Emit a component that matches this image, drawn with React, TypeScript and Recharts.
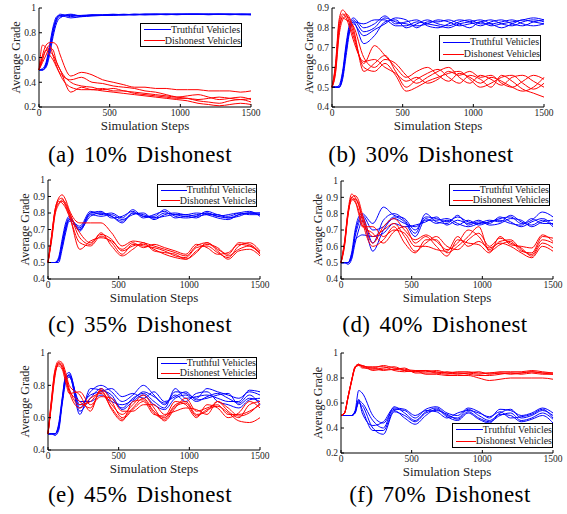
import { LineChart, Line, XAxis, YAxis, Legend } from "recharts";

// Simulation step at which each grade was sampled
const STEPS = [0, 25, 50, 75, 100, 125, 150, 225, 300, 375, 450, 525, 600, 675, 750, 825, 900, 975, 1050, 1125, 1200, 1275, 1350, 1425, 1500];
const X_TICKS = [0, 500, 1000, 1500];

// (a) 10% dishonest
const A_TRUTHFUL = [
  [0.5, 0.5, 0.53, 0.65, 0.8, 0.9, 0.93, 0.94, 0.94, 0.945, 0.945, 0.95, 0.945, 0.95, 0.95, 0.95, 0.95, 0.95, 0.95, 0.95, 0.95, 0.95, 0.95, 0.95, 0.95],
  [0.5, 0.5, 0.55, 0.68, 0.83, 0.92, 0.95, 0.93, 0.94, 0.94, 0.945, 0.945, 0.95, 0.945, 0.95, 0.95, 0.95, 0.95, 0.95, 0.95, 0.95, 0.95, 0.95, 0.945, 0.945],
  [0.5, 0.5, 0.52, 0.62, 0.77, 0.88, 0.92, 0.95, 0.935, 0.945, 0.94, 0.945, 0.945, 0.95, 0.945, 0.95, 0.95, 0.945, 0.95, 0.95, 0.95, 0.95, 0.95, 0.95, 0.95],
  [0.5, 0.51, 0.56, 0.7, 0.85, 0.93, 0.94, 0.92, 0.93, 0.94, 0.94, 0.94, 0.945, 0.945, 0.945, 0.945, 0.95, 0.95, 0.95, 0.95, 0.945, 0.95, 0.95, 0.95, 0.945],
  [0.5, 0.5, 0.54, 0.66, 0.81, 0.91, 0.94, 0.945, 0.93, 0.935, 0.94, 0.945, 0.945, 0.945, 0.95, 0.95, 0.945, 0.95, 0.95, 0.95, 0.95, 0.95, 0.945, 0.95, 0.95],
];
const A_DISHONEST = [
  [0.5, 0.62, 0.7, 0.72, 0.72, 0.7, 0.62, 0.45, 0.48, 0.46, 0.42, 0.4, 0.38, 0.36, 0.36, 0.35, 0.35, 0.34, 0.34, 0.34, 0.33, 0.33, 0.33, 0.32, 0.33],
  [0.5, 0.7, 0.68, 0.65, 0.62, 0.56, 0.5, 0.32, 0.36, 0.34, 0.35, 0.33, 0.33, 0.31, 0.3, 0.29, 0.28, 0.27, 0.27, 0.26, 0.27, 0.28, 0.27, 0.26, 0.27],
  [0.5, 0.56, 0.62, 0.68, 0.66, 0.56, 0.5, 0.4, 0.37, 0.36, 0.34, 0.35, 0.33, 0.32, 0.31, 0.3, 0.29, 0.28, 0.29, 0.3, 0.28, 0.26, 0.27, 0.28, 0.26],
  [0.5, 0.58, 0.66, 0.62, 0.58, 0.52, 0.47, 0.42, 0.44, 0.4, 0.39, 0.37, 0.36, 0.35, 0.33, 0.32, 0.3, 0.28, 0.27, 0.25, 0.24, 0.23, 0.25, 0.26, 0.24],
  [0.5, 0.6, 0.66, 0.7, 0.61, 0.53, 0.46, 0.36, 0.34, 0.34, 0.33, 0.32, 0.31, 0.3, 0.29, 0.28, 0.27, 0.26, 0.25, 0.23, 0.22, 0.21, 0.22, 0.23, 0.22],
];

// (b) 30% dishonest
const B_TRUTHFUL = [
  [0.5, 0.5, 0.5, 0.56, 0.7, 0.81, 0.84, 0.78, 0.8, 0.85, 0.83, 0.82, 0.81, 0.82, 0.84, 0.83, 0.81, 0.82, 0.83, 0.84, 0.82, 0.81, 0.83, 0.84, 0.83],
  [0.5, 0.5, 0.5, 0.55, 0.68, 0.79, 0.83, 0.72, 0.76, 0.83, 0.84, 0.8, 0.82, 0.84, 0.82, 0.81, 0.83, 0.84, 0.82, 0.82, 0.83, 0.84, 0.82, 0.81, 0.82],
  [0.5, 0.5, 0.51, 0.58, 0.72, 0.82, 0.85, 0.8, 0.82, 0.86, 0.82, 0.83, 0.84, 0.81, 0.8, 0.82, 0.84, 0.83, 0.81, 0.83, 0.84, 0.82, 0.81, 0.83, 0.84],
  [0.5, 0.5, 0.5, 0.54, 0.66, 0.78, 0.82, 0.76, 0.79, 0.82, 0.85, 0.84, 0.8, 0.83, 0.83, 0.84, 0.82, 0.8, 0.83, 0.81, 0.82, 0.83, 0.84, 0.85, 0.84],
  [0.5, 0.5, 0.5, 0.57, 0.7, 0.8, 0.83, 0.82, 0.84, 0.84, 0.81, 0.81, 0.83, 0.82, 0.81, 0.8, 0.82, 0.83, 0.84, 0.82, 0.8, 0.82, 0.84, 0.83, 0.82],
];
const B_DISHONEST = [
  [0.5, 0.62, 0.84, 0.89, 0.87, 0.82, 0.76, 0.62, 0.71, 0.66, 0.6, 0.55, 0.58, 0.6, 0.56, 0.53, 0.57, 0.55, 0.52, 0.55, 0.53, 0.5, 0.48, 0.5, 0.55],
  [0.5, 0.58, 0.78, 0.86, 0.87, 0.85, 0.8, 0.58, 0.62, 0.66, 0.58, 0.5, 0.54, 0.57, 0.59, 0.55, 0.52, 0.56, 0.54, 0.5, 0.56, 0.53, 0.49, 0.47, 0.45],
  [0.5, 0.6, 0.8, 0.85, 0.84, 0.83, 0.81, 0.65, 0.6, 0.64, 0.62, 0.56, 0.52, 0.55, 0.58, 0.6, 0.55, 0.52, 0.56, 0.54, 0.51, 0.55, 0.56, 0.53, 0.5],
  [0.5, 0.57, 0.76, 0.84, 0.86, 0.84, 0.78, 0.6, 0.58, 0.62, 0.56, 0.48, 0.5, 0.53, 0.55, 0.57, 0.58, 0.54, 0.5, 0.52, 0.55, 0.56, 0.52, 0.49, 0.52],
  [0.5, 0.61, 0.82, 0.87, 0.85, 0.8, 0.74, 0.63, 0.64, 0.6, 0.57, 0.53, 0.55, 0.52, 0.54, 0.58, 0.56, 0.58, 0.55, 0.56, 0.52, 0.5, 0.53, 0.56, 0.54],
];

// (c) 35% dishonest
const C_TRUTHFUL = [
  [0.5, 0.5, 0.5, 0.52, 0.62, 0.72, 0.77, 0.7, 0.8, 0.8, 0.78, 0.74, 0.8, 0.79, 0.77, 0.8, 0.79, 0.78, 0.79, 0.8, 0.78, 0.77, 0.79, 0.8, 0.79],
  [0.5, 0.5, 0.5, 0.51, 0.6, 0.7, 0.76, 0.72, 0.81, 0.79, 0.8, 0.77, 0.82, 0.78, 0.78, 0.82, 0.78, 0.77, 0.78, 0.81, 0.79, 0.78, 0.8, 0.81, 0.78],
  [0.5, 0.5, 0.5, 0.53, 0.64, 0.74, 0.78, 0.69, 0.79, 0.78, 0.79, 0.76, 0.79, 0.8, 0.76, 0.79, 0.8, 0.79, 0.8, 0.79, 0.77, 0.76, 0.79, 0.8, 0.8],
  [0.5, 0.5, 0.5, 0.52, 0.61, 0.71, 0.76, 0.71, 0.8, 0.81, 0.77, 0.78, 0.81, 0.77, 0.79, 0.81, 0.77, 0.78, 0.77, 0.8, 0.78, 0.79, 0.8, 0.79, 0.79],
  [0.5, 0.5, 0.5, 0.5, 0.58, 0.68, 0.75, 0.7, 0.78, 0.8, 0.78, 0.75, 0.8, 0.78, 0.77, 0.78, 0.79, 0.79, 0.78, 0.79, 0.79, 0.77, 0.78, 0.8, 0.8],
];
const C_DISHONEST = [
  [0.5, 0.66, 0.82, 0.89, 0.91, 0.88, 0.82, 0.74, 0.74, 0.74, 0.68, 0.6, 0.63, 0.62, 0.6, 0.58, 0.56, 0.54, 0.6, 0.62, 0.58, 0.55, 0.62, 0.61, 0.56],
  [0.5, 0.64, 0.8, 0.86, 0.87, 0.85, 0.8, 0.68, 0.62, 0.67, 0.64, 0.57, 0.6, 0.61, 0.58, 0.55, 0.53, 0.52, 0.57, 0.61, 0.59, 0.54, 0.58, 0.6, 0.55],
  [0.5, 0.65, 0.81, 0.87, 0.86, 0.83, 0.78, 0.62, 0.6, 0.66, 0.62, 0.55, 0.61, 0.6, 0.59, 0.57, 0.54, 0.53, 0.59, 0.6, 0.56, 0.53, 0.6, 0.62, 0.57],
  [0.5, 0.63, 0.79, 0.85, 0.88, 0.86, 0.81, 0.65, 0.61, 0.68, 0.6, 0.54, 0.58, 0.62, 0.57, 0.56, 0.55, 0.52, 0.56, 0.62, 0.57, 0.52, 0.57, 0.58, 0.54],
  [0.5, 0.66, 0.82, 0.88, 0.89, 0.84, 0.79, 0.58, 0.63, 0.65, 0.63, 0.58, 0.62, 0.59, 0.61, 0.59, 0.57, 0.55, 0.61, 0.59, 0.55, 0.56, 0.61, 0.6, 0.56],
];

// (d) 40% dishonest
const D_TRUTHFUL = [
  [0.5, 0.5, 0.5, 0.56, 0.7, 0.78, 0.8, 0.74, 0.84, 0.79, 0.77, 0.7, 0.78, 0.77, 0.75, 0.78, 0.75, 0.74, 0.75, 0.77, 0.78, 0.74, 0.76, 0.81, 0.78],
  [0.5, 0.5, 0.5, 0.54, 0.66, 0.74, 0.78, 0.62, 0.76, 0.8, 0.76, 0.68, 0.8, 0.75, 0.74, 0.79, 0.73, 0.75, 0.74, 0.78, 0.75, 0.72, 0.75, 0.77, 0.73],
  [0.5, 0.5, 0.49, 0.52, 0.62, 0.7, 0.76, 0.57, 0.7, 0.77, 0.74, 0.72, 0.76, 0.76, 0.77, 0.74, 0.72, 0.74, 0.76, 0.75, 0.79, 0.75, 0.73, 0.76, 0.72],
  [0.5, 0.5, 0.5, 0.55, 0.64, 0.66, 0.67, 0.66, 0.68, 0.74, 0.72, 0.73, 0.75, 0.78, 0.73, 0.76, 0.74, 0.76, 0.73, 0.74, 0.77, 0.76, 0.72, 0.75, 0.76],
  [0.5, 0.5, 0.5, 0.53, 0.68, 0.76, 0.79, 0.7, 0.72, 0.78, 0.75, 0.66, 0.77, 0.74, 0.76, 0.73, 0.76, 0.73, 0.75, 0.76, 0.74, 0.73, 0.77, 0.74, 0.74],
];
const D_DISHONEST = [
  [0.5, 0.63, 0.82, 0.92, 0.9, 0.85, 0.78, 0.62, 0.72, 0.77, 0.7, 0.64, 0.67, 0.63, 0.58, 0.62, 0.7, 0.66, 0.58, 0.63, 0.64, 0.58, 0.55, 0.64, 0.62],
  [0.5, 0.61, 0.8, 0.9, 0.91, 0.88, 0.8, 0.66, 0.7, 0.74, 0.66, 0.57, 0.62, 0.66, 0.6, 0.58, 0.64, 0.68, 0.6, 0.65, 0.62, 0.59, 0.54, 0.62, 0.59],
  [0.5, 0.62, 0.81, 0.88, 0.89, 0.86, 0.76, 0.6, 0.64, 0.72, 0.62, 0.56, 0.64, 0.64, 0.56, 0.6, 0.66, 0.72, 0.57, 0.61, 0.63, 0.57, 0.56, 0.66, 0.65],
  [0.5, 0.6, 0.79, 0.89, 0.87, 0.82, 0.73, 0.68, 0.62, 0.69, 0.72, 0.62, 0.66, 0.6, 0.54, 0.64, 0.62, 0.61, 0.56, 0.66, 0.61, 0.6, 0.59, 0.67, 0.63],
  [0.5, 0.62, 0.8, 0.9, 0.88, 0.8, 0.72, 0.72, 0.66, 0.7, 0.68, 0.6, 0.6, 0.58, 0.57, 0.66, 0.6, 0.63, 0.59, 0.62, 0.6, 0.56, 0.53, 0.6, 0.57],
];

// (e) 45% dishonest
const E_TRUTHFUL = [
  [0.5, 0.5, 0.5, 0.56, 0.72, 0.86, 0.88, 0.66, 0.76, 0.8, 0.76, 0.7, 0.74, 0.8, 0.74, 0.68, 0.76, 0.75, 0.72, 0.78, 0.76, 0.74, 0.72, 0.76, 0.74],
  [0.5, 0.5, 0.5, 0.54, 0.7, 0.84, 0.86, 0.64, 0.72, 0.78, 0.72, 0.66, 0.72, 0.75, 0.7, 0.66, 0.78, 0.72, 0.73, 0.74, 0.72, 0.7, 0.7, 0.77, 0.76],
  [0.5, 0.5, 0.49, 0.52, 0.68, 0.82, 0.87, 0.68, 0.74, 0.76, 0.78, 0.73, 0.75, 0.72, 0.76, 0.7, 0.73, 0.76, 0.71, 0.72, 0.74, 0.75, 0.68, 0.72, 0.7],
  [0.5, 0.5, 0.5, 0.55, 0.69, 0.83, 0.85, 0.7, 0.7, 0.74, 0.7, 0.68, 0.71, 0.76, 0.73, 0.69, 0.74, 0.7, 0.75, 0.76, 0.7, 0.68, 0.66, 0.71, 0.72],
  [0.5, 0.5, 0.5, 0.53, 0.71, 0.85, 0.86, 0.62, 0.78, 0.77, 0.74, 0.65, 0.7, 0.74, 0.68, 0.65, 0.72, 0.74, 0.7, 0.73, 0.75, 0.72, 0.69, 0.74, 0.68],
];
const E_DISHONEST = [
  [0.5, 0.72, 0.9, 0.95, 0.94, 0.88, 0.8, 0.74, 0.64, 0.78, 0.7, 0.6, 0.66, 0.72, 0.64, 0.6, 0.68, 0.7, 0.62, 0.64, 0.7, 0.64, 0.6, 0.68, 0.7],
  [0.5, 0.7, 0.88, 0.93, 0.92, 0.86, 0.78, 0.68, 0.7, 0.76, 0.68, 0.62, 0.68, 0.74, 0.66, 0.58, 0.66, 0.72, 0.64, 0.66, 0.68, 0.62, 0.62, 0.64, 0.68],
  [0.5, 0.68, 0.86, 0.94, 0.93, 0.84, 0.76, 0.66, 0.72, 0.75, 0.66, 0.59, 0.65, 0.7, 0.62, 0.61, 0.7, 0.68, 0.6, 0.68, 0.66, 0.6, 0.63, 0.7, 0.66],
  [0.5, 0.71, 0.89, 0.92, 0.9, 0.82, 0.75, 0.76, 0.68, 0.73, 0.72, 0.64, 0.64, 0.68, 0.68, 0.62, 0.64, 0.66, 0.65, 0.62, 0.7, 0.66, 0.61, 0.63, 0.69],
  [0.5, 0.69, 0.87, 0.94, 0.91, 0.85, 0.77, 0.7, 0.66, 0.77, 0.65, 0.58, 0.7, 0.71, 0.63, 0.59, 0.67, 0.69, 0.61, 0.65, 0.67, 0.63, 0.58, 0.57, 0.6],
];

// (f) 70% dishonest
const F_TRUTHFUL = [
  [0.5, 0.5, 0.5, 0.5, 0.54, 0.7, 0.68, 0.5, 0.44, 0.55, 0.54, 0.48, 0.55, 0.57, 0.52, 0.5, 0.56, 0.53, 0.48, 0.55, 0.54, 0.5, 0.52, 0.56, 0.52],
  [0.5, 0.5, 0.5, 0.5, 0.53, 0.62, 0.6, 0.46, 0.4, 0.57, 0.52, 0.46, 0.53, 0.56, 0.5, 0.48, 0.55, 0.5, 0.46, 0.52, 0.55, 0.48, 0.5, 0.54, 0.5],
  [0.5, 0.5, 0.5, 0.5, 0.52, 0.6, 0.58, 0.4, 0.35, 0.53, 0.5, 0.45, 0.52, 0.54, 0.51, 0.47, 0.53, 0.48, 0.45, 0.5, 0.52, 0.46, 0.48, 0.52, 0.47],
  [0.5, 0.5, 0.5, 0.5, 0.53, 0.61, 0.55, 0.38, 0.38, 0.54, 0.48, 0.43, 0.5, 0.55, 0.49, 0.46, 0.52, 0.47, 0.44, 0.51, 0.5, 0.45, 0.47, 0.5, 0.44],
  [0.5, 0.5, 0.5, 0.5, 0.52, 0.63, 0.52, 0.42, 0.45, 0.56, 0.55, 0.5, 0.54, 0.53, 0.48, 0.52, 0.54, 0.52, 0.49, 0.53, 0.48, 0.49, 0.51, 0.55, 0.48],
];
const F_DISHONEST = [
  [0.5, 0.52, 0.65, 0.78, 0.89, 0.91, 0.9, 0.88, 0.9, 0.88, 0.87, 0.86, 0.86, 0.85, 0.84, 0.85, 0.85, 0.84, 0.84, 0.85, 0.85, 0.85, 0.86, 0.85, 0.84],
  [0.5, 0.52, 0.65, 0.78, 0.89, 0.91, 0.89, 0.87, 0.88, 0.89, 0.86, 0.85, 0.85, 0.86, 0.84, 0.83, 0.84, 0.85, 0.83, 0.84, 0.84, 0.84, 0.85, 0.84, 0.83],
  [0.5, 0.52, 0.65, 0.78, 0.88, 0.9, 0.9, 0.86, 0.87, 0.87, 0.88, 0.84, 0.84, 0.84, 0.83, 0.84, 0.83, 0.82, 0.82, 0.83, 0.84, 0.83, 0.84, 0.83, 0.83],
  [0.5, 0.52, 0.64, 0.77, 0.88, 0.91, 0.89, 0.89, 0.89, 0.86, 0.85, 0.86, 0.83, 0.83, 0.82, 0.82, 0.82, 0.8, 0.78, 0.79, 0.8, 0.8, 0.8, 0.8, 0.79],
  [0.5, 0.52, 0.65, 0.78, 0.89, 0.9, 0.88, 0.88, 0.86, 0.87, 0.86, 0.85, 0.86, 0.84, 0.85, 0.84, 0.84, 0.83, 0.84, 0.84, 0.83, 0.84, 0.85, 0.84, 0.84],
];

const SERIF = "Liberation Serif, Times New Roman, Times, DejaVu Serif, serif";
const BLUE = "#0000ff";
const RED = "#ff0000";
const PANEL_W = 283;
const CHART_H = 140;

type Box = { left: number; top: number; width: number; height: number };
type PanelDef = {
  caption: string;
  captionX: number;
  truthful: number[][];
  dishonest: number[][];
  yDomain: [number, number];
  yTicks: number[];
  plot: { left: number; top: number; right: number; bottom: number };
  legend: Box;
  origin: { x: number; y: number };
};

const PANELS: PanelDef[] = [
  { caption: "(a) 10% Dishonest", captionX: 140, truthful: A_TRUTHFUL, dishonest: A_DISHONEST, yDomain: [0.2, 1], yTicks: [0.2, 0.4, 0.6, 0.8, 1], plot: { left: 39, top: 8, right: 251, bottom: 107 }, legend: { left: 140, top: 23, width: 102, height: 24 }, origin: { x: 0, y: 0 } },
  { caption: "(b) 30% Dishonest", captionX: 136, truthful: B_TRUTHFUL, dishonest: B_DISHONEST, yDomain: [0.4, 0.9], yTicks: [0.4, 0.5, 0.6, 0.7, 0.8, 0.9], plot: { left: 47, top: 8, right: 259, bottom: 107 }, legend: { left: 154, top: 35, width: 102, height: 26 }, origin: { x: 285, y: 0 } },
  { caption: "(c) 35% Dishonest", captionX: 140, truthful: C_TRUTHFUL, dishonest: C_DISHONEST, yDomain: [0.4, 1], yTicks: [0.4, 0.5, 0.6, 0.7, 0.8, 0.9, 1], plot: { left: 48, top: 10, right: 260, bottom: 109 }, legend: { left: 157, top: 14, width: 100, height: 23 }, origin: { x: 0, y: 170 } },
  { caption: "(d) 40% Dishonest", captionX: 150, truthful: D_TRUTHFUL, dishonest: D_DISHONEST, yDomain: [0.4, 1], yTicks: [0.4, 0.5, 0.6, 0.7, 0.8, 0.9, 1], plot: { left: 56, top: 11, right: 268, bottom: 109 }, legend: { left: 164, top: 14, width: 101, height: 22 }, origin: { x: 285, y: 170 } },
  { caption: "(e) 45% Dishonest", captionX: 140, truthful: E_TRUTHFUL, dishonest: E_DISHONEST, yDomain: [0.4, 1], yTicks: [0.4, 0.6, 0.8, 1], plot: { left: 48, top: 13, right: 260, bottom: 110 }, legend: { left: 157, top: 17, width: 100, height: 22 }, origin: { x: 0, y: 340 } },
  { caption: "(f) 70% Dishonest", captionX: 155, truthful: F_TRUTHFUL, dishonest: F_DISHONEST, yDomain: [0.2, 1], yTicks: [0.2, 0.4, 0.6, 0.8, 1], plot: { left: 56, top: 13, right: 268, bottom: 113 }, legend: { left: 167, top: 83, width: 101, height: 25 }, origin: { x: 285, y: 340 } },
];

const tickStyle = { fontSize: 9.5, fill: "#222", fontFamily: SERIF } as const;

function LegendBox({ box }: { box: Box }) {
  const row = (color: string, text: string) => (
    <div style={{ display: "flex", alignItems: "center", height: (box.height - 2) / 2 }}>
      <div style={{ width: 27, height: 0, borderTop: `1.5px solid ${color}`, marginLeft: 3 }} />
      <span style={{ fontSize: 10, lineHeight: "10px", color: "#222", fontFamily: SERIF, whiteSpace: "nowrap" }}>{text}</span>
    </div>
  );
  return (
    <div style={{ width: box.width - 2, height: box.height - 2, border: "1px solid #000", background: "#fff" }}>
      {row(BLUE, "Truthful Vehicles")}
      {row(RED, "Dishonest Vehicles")}
    </div>
  );
}

function Panel({ p }: { p: PanelDef }) {
  const rows = STEPS.map((step, i) => {
    const row: Record<string, number> = { step };
    p.truthful.forEach((s, k) => (row[`t${k}`] = s[i]));
    p.dishonest.forEach((s, k) => (row[`d${k}`] = s[i]));
    return row;
  });
  const yAxisW = 30;
  const xAxisH = 30;
  const margin = {
    top: p.plot.top,
    left: p.plot.left - yAxisW,
    right: PANEL_W - p.plot.right,
    bottom: CHART_H - p.plot.bottom - xAxisH,
  };

  return (
    <div style={{ position: "absolute", left: p.origin.x, top: p.origin.y, width: PANEL_W, height: 170 }}>
      <LineChart width={PANEL_W} height={CHART_H} data={rows} margin={margin}>
        {/* negative tick sizes give the inward Matlab-style ticks */}
        <XAxis
          dataKey="step"
          type="number"
          domain={[0, 1500]}
          ticks={X_TICKS}
          interval={0}
          height={xAxisH}
          stroke="#000"
          tickSize={-3}
          tickMargin={5}
          tick={tickStyle}
          label={(lp: any) => (
            <text
              x={lp.viewBox.x + lp.viewBox.width / 2}
              y={lp.viewBox.y + 18}
              textAnchor="middle"
              dominantBaseline="central"
              fontSize={13}
              fontFamily={SERIF}
              fill="#222"
            >
              Simulation Steps
            </text>
          )}
        />
        <YAxis
          type="number"
          domain={p.yDomain}
          ticks={p.yTicks}
          interval={0}
          allowDataOverflow
          width={yAxisW}
          stroke="#000"
          tickSize={-3}
          tickMargin={6}
          tick={tickStyle}
          label={(lp: any) => {
            const cx = lp.viewBox.x + lp.viewBox.width - 23;
            const cy = lp.viewBox.y + lp.viewBox.height / 2;
            return (
              <text
                x={cx}
                y={cy}
                transform={`rotate(-90 ${cx} ${cy})`}
                textAnchor="middle"
                dominantBaseline="central"
                fontSize={12}
                fontFamily={SERIF}
                fill="#222"
              >
                Average Grade
              </text>
            );
          }}
        />
        {p.truthful.map((_, k) => (
          <Line key={`t${k}`} dataKey={`t${k}`} type="monotone" stroke={BLUE} strokeWidth={1} dot={false} isAnimationActive={false} />
        ))}
        {p.dishonest.map((_, k) => (
          <Line key={`d${k}`} dataKey={`d${k}`} type="monotone" stroke={RED} strokeWidth={1} dot={false} isAnimationActive={false} />
        ))}
        <Legend
          layout="vertical"
          align="center"
          verticalAlign="middle"
          content={() => <LegendBox box={p.legend} />}
          wrapperStyle={{ left: p.legend.left, top: p.legend.top, width: p.legend.width, height: p.legend.height }}
        />
      </LineChart>
      <div
        style={{
          position: "absolute",
          left: p.captionX - 110,
          width: 220,
          top: 155 - 13,
          textAlign: "center",
          fontSize: 23,
          lineHeight: "26px",
          wordSpacing: 3,
          letterSpacing: 0.4,
          whiteSpace: "nowrap",
          fontFamily: SERIF,
          color: "#000",
        }}
      >
        {p.caption}
      </div>
    </div>
  );
}

export default function App() {
  return (
    <div style={{ position: "absolute", left: 0, top: 0, width: 567, height: 514, background: "#fff" }}>
      {PANELS.map((p) => (
        <Panel key={p.caption} p={p} />
      ))}
    </div>
  );
}
